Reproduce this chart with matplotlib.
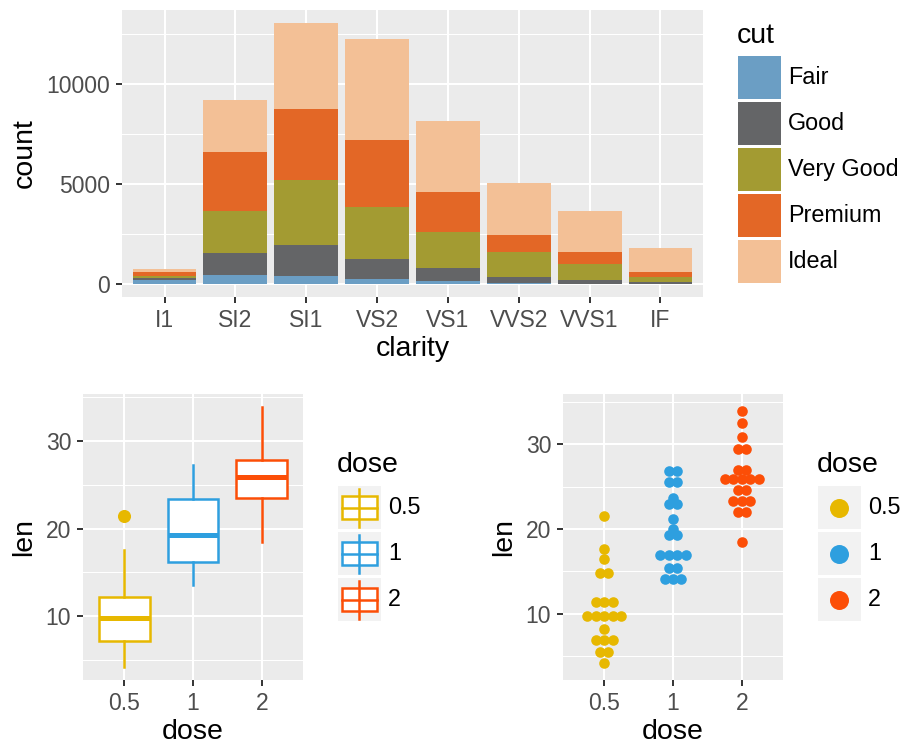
import numpy as np
import matplotlib
matplotlib.use("Agg")
import matplotlib.pyplot as plt
from matplotlib.patches import Rectangle
from matplotlib.lines import Line2D

# ---- data -------------------------------------------------------------
clarity = ["I1", "SI2", "SI1", "VS2", "VS1", "VVS2", "VVS1", "IF"]
cuts = ["Fair", "Good", "Very Good", "Premium", "Ideal"]
fair = [210, 466, 408, 261, 170, 69, 17, 9]
good = [96, 1081, 1560, 978, 648, 286, 186, 71]
very_good = [84, 2100, 3240, 2591, 1775, 1235, 789, 268]
premium = [205, 2949, 3575, 3357, 1989, 870, 616, 230]
ideal = [146, 2598, 4282, 5071, 3589, 2606, 2047, 1212]
cut_colors = ["#6B9EC4", "#646567", "#A39B32", "#E36726", "#F3C096"]

doses = ["0.5", "1", "2"]
len_05 = [4.2, 11.5, 7.3, 5.8, 6.4, 10.0, 11.2, 11.2, 5.2, 7.0,
          15.2, 21.5, 17.6, 9.7, 14.5, 10.0, 8.2, 9.4, 16.5, 9.7]
len_1 = [16.5, 16.5, 15.2, 17.3, 22.5, 17.3, 13.6, 14.5, 18.8, 15.5,
         19.7, 23.3, 23.6, 26.4, 20.0, 25.2, 25.8, 21.2, 14.5, 27.3]
len_2 = [23.6, 18.5, 33.9, 25.5, 26.4, 32.5, 26.7, 21.5, 23.3, 29.5,
         25.5, 26.4, 22.4, 24.5, 24.8, 30.9, 26.4, 27.3, 29.4, 23.0]
dose_colors = ["#E7B800", "#2E9FDF", "#FC4E07"]

# ---- layout helpers ---------------------------------------------------
W, H = 903, 745
plt.rcParams["font.family"] = ["Liberation Sans", "DejaVu Sans"]
fig = plt.figure(figsize=(W / 100, H / 100), dpi=100)

PANEL = "#EBEBEB"
TICK_C = "#4D4D4D"
TICK_FS = 16.5
LEG_FS = 16.8
TITLE_FS = 20.5


def fx(x):
    return x / W


def fy(y):
    return 1 - y / H


def panel(x0, y0, x1, y1):
    ax = fig.add_axes([fx(x0), fy(y1), (x1 - x0) / W, (y1 - y0) / H])
    ax.set_facecolor(PANEL)
    for s in ax.spines.values():
        s.set_visible(False)
    ax.tick_params(length=4.5, width=1.4, color="#333333", labelsize=TICK_FS,
                   labelcolor=TICK_C, pad=4)
    ax.grid(which="major", color="white", lw=1.5)
    ax.grid(which="minor", axis="y", color="white", lw=0.75)
    ax.tick_params(which="minor", length=0)
    ax.set_axisbelow(True)
    return ax


def key_bg(x, y, w=43, h=43, color="#F2F2F2"):
    fig.add_artist(Rectangle((fx(x), fy(y + h)), w / W, h / H,
                             transform=fig.transFigure, color=color, lw=0))


# ---- top: stacked bar chart -------------------------------------------
ax1 = panel(122, 10, 703, 297)
xs = np.arange(1, len(clarity) + 1)
bottom = np.zeros(len(clarity))
for vals, col in zip([fair, good, very_good, premium, ideal], cut_colors):
    ax1.bar(xs, vals, bottom=bottom, width=0.9, color=col, lw=0, zorder=2)
    bottom += np.array(vals)
tot = bottom.max()
ax1.set_xlim(0.4, len(clarity) + 0.6)
ax1.set_ylim(-0.05 * tot, 1.05 * tot)
ax1.set_xticks(xs)
ax1.set_xticklabels(clarity)
ax1.set_yticks([0, 5000, 10000])
ax1.set_yticks([2500, 7500, 12500], minor=True)
ax1.set_xlabel("clarity", fontsize=TITLE_FS, labelpad=3)
ax1.set_ylabel("count", fontsize=TITLE_FS, labelpad=6)

fig.text(fx(737), fy(43), "cut", fontsize=TITLE_FS, va="baseline")
for i, (c, col) in enumerate(zip(cuts, cut_colors)):
    ky = 56 + i * 46
    key_bg(738, ky, color=col)
    fig.text(fx(788), fy(ky + 21.5), c, fontsize=LEG_FS, va="center")

# ---- bottom left: box plot --------------------------------------------
groups = [len_05, len_1, len_2]
ax2 = panel(83, 394, 303, 680)
allv = np.concatenate(groups)
lo, hi = allv.min(), allv.max()
pad = 0.05 * (hi - lo)
ax2.set_ylim(lo - pad, hi + pad)
ax2.set_xlim(0.4, 3.6)
for i, (g, col) in enumerate(zip(groups, dose_colors)):
    ax2.boxplot([g], positions=[i + 1], widths=0.74, patch_artist=True,
                showcaps=False, zorder=3,
                boxprops=dict(facecolor="white", edgecolor=col, lw=1.8),
                medianprops=dict(color=col, lw=3.6),
                whiskerprops=dict(color=col, lw=1.8),
                flierprops=dict(marker="o", markerfacecolor=col,
                                markeredgecolor=col, markersize=8.4))
ax2.set_xticks([1, 2, 3])
ax2.set_xticklabels(doses)
ax2.set_yticks([10, 20, 30])
ax2.set_yticks([5, 15, 25, 35], minor=True)
ax2.set_xlabel("dose", fontsize=TITLE_FS, labelpad=3)
ax2.set_ylabel("len", fontsize=TITLE_FS, labelpad=6)

fig.text(fx(337), fy(471.5), "dose", fontsize=TITLE_FS, va="baseline")
for i, (d, col) in enumerate(zip(doses, dose_colors)):
    ky = 486 + i * 46
    key_bg(338, ky)
    cx = 338 + 21.5
    fig.add_artist(Line2D([fx(cx), fx(cx)], [fy(ky + 2.5), fy(ky + 40.5)],
                          transform=fig.transFigure, color=col, lw=1.8))
    fig.add_artist(Rectangle((fx(342), fy(ky + 33)), 35 / W, 23 / H,
                             transform=fig.transFigure, facecolor="white",
                             edgecolor=col, lw=1.8))
    fig.add_artist(Line2D([fx(342), fx(377)], [fy(ky + 21.5), fy(ky + 21.5)],
                          transform=fig.transFigure, color=col, lw=1.8))
    fig.text(fx(388), fy(ky + 21.5), d, fontsize=LEG_FS, va="center")

# ---- bottom right: dot plot -------------------------------------------
ax3 = panel(563, 394, 783, 680)
binwidth = (hi - lo) / 30
binned = []
for g in groups:
    v = np.sort(g)
    centers = []
    i = 0
    while i < len(v):
        end = v[i] + binwidth
        j = i
        while j < len(v) and v[j] < end:
            j += 1
        centers.append(((v[i] + v[j - 1]) / 2, j - i))
        i = j
    binned.append(centers)
cmin = min(c for b in binned for c, _ in b) - binwidth / 2
cmax = max(c for b in binned for c, _ in b) + binwidth / 2
pad = 0.05 * (cmax - cmin)
ax3.set_ylim(cmin - pad, cmax + pad)
ax3.set_xlim(0.4, 3.6)
ypx = 286 / (cmax - cmin + 2 * pad)
xpx = 220 / 3.2
step = binwidth * ypx
dot = step + 2.2
for k, (b, col) in enumerate(zip(binned, dose_colors)):
    px, py = [], []
    for c, n in b:
        for m in range(n):
            px.append(k + 1 + (m + 1 - (n + 1) / 2) * step / xpx)
            py.append(c)
    ax3.scatter(px, py, s=(dot * 0.72) ** 2, color=col, lw=0, zorder=3)
ax3.set_xticks([1, 2, 3])
ax3.set_xticklabels(doses)
ax3.set_yticks([10, 20, 30])
ax3.set_yticks([5, 15, 25, 35], minor=True)
ax3.set_xlabel("dose", fontsize=TITLE_FS, labelpad=3)
ax3.set_ylabel("len", fontsize=TITLE_FS, labelpad=6)

fig.text(fx(817), fy(471.5), "dose", fontsize=TITLE_FS, va="baseline")
for i, (d, col) in enumerate(zip(doses, dose_colors)):
    ky = 486 + i * 46
    key_bg(818, ky)
    fig.add_artist(Line2D([fx(839.5)], [fy(ky + 21.5)], marker="o",
                          markersize=19 * 0.72, color=col, lw=0,
                          markeredgewidth=0, transform=fig.transFigure))
    fig.text(fx(868), fy(ky + 21.5), d, fontsize=LEG_FS, va="center")

fig.savefig("out.png", dpi=100)
